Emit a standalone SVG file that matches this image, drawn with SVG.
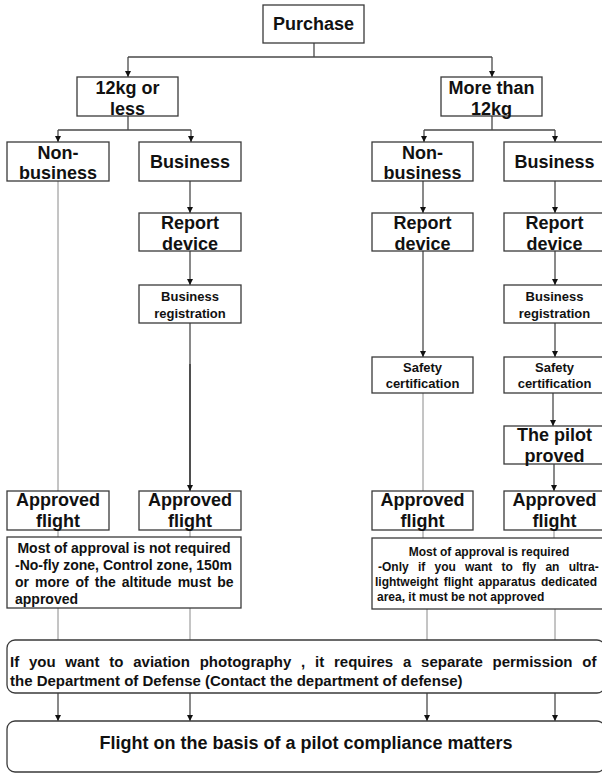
<svg xmlns="http://www.w3.org/2000/svg" width="602" height="773" viewBox="0 0 602 773">
<defs>
<style>
.box{fill:#fff;stroke:#3a3a3a;stroke-width:1.3}
.t{font-family:"Liberation Sans",Arial,sans-serif;font-weight:bold;fill:#111;text-anchor:middle}
.l{font-size:18px}
.s{font-size:13px}
.m{font-size:14px}
.p{font-size:15px}
.r{font-size:12px}
.st{text-anchor:start}
.c{fill:none;stroke:#4a4a4a;stroke-width:1.3}
.g{fill:none;stroke:#8a8a8a;stroke-width:1}
.a{marker-end:url(#arr)}
</style>
<marker id="arr" viewBox="0 0 10 10" refX="10" refY="5" markerWidth="6" markerHeight="6" markerUnits="userSpaceOnUse" orient="auto">
<path d="M0,0 L10,5 L0,10 z" fill="#111"/>
</marker>
</defs>
<rect width="602" height="773" fill="#fff"/>
<g id="connectors">
<path class="c" d="M314 43 V57 M128 57 H492"/>
<path class="c a" d="M128 57 V77"/>
<path class="c a" d="M492 57 V77"/>
<path class="c" d="M128 116 V130 M58 130 H191"/>
<path class="c a" d="M58 130 V142"/>
<path class="c a" d="M191 130 V142"/>
<path class="c" d="M492 116 V130 M424 130 H555"/>
<path class="c a" d="M424 130 V142"/>
<path class="c a" d="M555 130 V142"/>
<path class="g" d="M58 181 V491"/>
<path class="c a" d="M190 181 V213"/>
<path class="c a" d="M190 251 V285"/>
<path class="c" d="M190 323 V364"/>
<path class="c a" style="stroke:#222;stroke-width:1.6" d="M190 364 V491"/>
<path class="c a" d="M423 181 V213"/>
<path class="c a" d="M423 251 V357"/>
<path class="g" d="M423 393 V491"/>
<path class="c a" d="M555 181 V213"/>
<path class="c a" d="M555 251 V285"/>
<path class="c a" d="M555 323 V357"/>
<path class="c a" d="M553 393 V426"/>
<path class="c a" d="M554 464 V491"/>
<path class="g" d="M58 530 V537 M190 530 V537 M423 530 V538 M554 530 V538"/>
<path class="g" d="M58 608 V640 M190 608 V640 M427 609 V640 M555 609 V640"/>
<path class="c a" d="M58 693 V721"/>
<path class="c a" d="M190 693 V721"/>
<path class="c a" d="M427 693 V721"/>
<path class="c a" d="M555 693 V721"/>
</g>
<g id="purchase"><rect class="box" x="263" y="5" width="101" height="38"/><text class="t l" x="313.5" y="30">Purchase</text></g>
<g id="kg12"><rect class="box" x="77" y="77" width="101" height="39"/><text class="t l" x="127.5" y="94">12kg or</text><text class="t l" x="127.5" y="115">less</text></g>
<g id="more12"><rect class="box" x="441" y="77" width="101" height="39"/><text class="t l" x="491.5" y="94">More than</text><text class="t l" x="491.5" y="115">12kg</text></g>
<g id="nonbiz1"><rect class="box" x="7" y="142" width="102" height="39"/><text class="t l" x="58" y="159">Non-</text><text class="t l" x="58" y="179">business</text></g>
<g id="biz1"><rect class="box" x="139" y="142" width="102" height="39"/><text class="t l" x="190" y="168">Business</text></g>
<g id="nonbiz2"><rect class="box" x="372" y="142" width="101" height="39"/><text class="t l" x="422.5" y="159">Non-</text><text class="t l" x="422.5" y="179">business</text></g>
<g id="biz2"><rect class="box" x="504" y="142" width="101" height="39"/><text class="t l" x="554.5" y="168">Business</text></g>
<g id="report1"><rect class="box" x="139" y="213" width="102" height="38"/><text class="t l" x="190" y="229">Report</text><text class="t l" x="190" y="250">device</text></g>
<g id="bizreg1"><rect class="box" x="139" y="285" width="102" height="38"/><text class="t s" x="190" y="301">Business</text><text class="t s" x="190" y="318">registration</text></g>
<g id="report2"><rect class="box" x="372" y="213" width="101" height="38"/><text class="t l" x="422.5" y="229">Report</text><text class="t l" x="422.5" y="250">device</text></g>
<g id="report3"><rect class="box" x="504" y="213" width="101" height="38"/><text class="t l" x="554.5" y="229">Report</text><text class="t l" x="554.5" y="250">device</text></g>
<g id="bizreg2"><rect class="box" x="504" y="285" width="101" height="38"/><text class="t s" x="554.5" y="301">Business</text><text class="t s" x="554.5" y="318">registration</text></g>
<g id="safety1"><rect class="box" x="372" y="357" width="101" height="36"/><text class="t s" x="422.5" y="372">Safety</text><text class="t s" x="422.5" y="388">certification</text></g>
<g id="safety2"><rect class="box" x="504" y="357" width="101" height="36"/><text class="t s" x="554.5" y="372">Safety</text><text class="t s" x="554.5" y="388">certification</text></g>
<g id="pilot"><rect class="box" x="504" y="426" width="101" height="38"/><text class="t l" x="554.5" y="441">The pilot</text><text class="t l" x="554.5" y="462">proved</text></g>
<g id="approved1"><rect class="box" x="7" y="491" width="102" height="39"/><text class="t l" x="58" y="506">Approved</text><text class="t l" x="58" y="527">flight</text></g>
<g id="approved2"><rect class="box" x="139" y="491" width="102" height="39"/><text class="t l" x="190" y="506">Approved</text><text class="t l" x="190" y="527">flight</text></g>
<g id="approved3"><rect class="box" x="372" y="491" width="101" height="39"/><text class="t l" x="422.5" y="506">Approved</text><text class="t l" x="422.5" y="527">flight</text></g>
<g id="approved4"><rect class="box" x="504" y="491" width="101" height="39"/><text class="t l" x="554.5" y="506">Approved</text><text class="t l" x="554.5" y="527">flight</text></g>
<g id="info1"><rect class="box" x="7" y="537" width="234" height="71"/>
<text class="t m" x="124" y="553">Most of approval is not required</text>
<text class="t m st" x="15" y="570">-No-fly zone, Control zone, 150m</text>
<text class="t m st" x="15" y="587" word-spacing="2.2">or more of the altitude must be</text>
<text class="t m st" x="15" y="604">approved</text></g>
<g id="info2"><rect class="box" x="372" y="538" width="234" height="71"/>
<text class="t r" x="489" y="556">Most of approval is required</text>
<text class="t r st" x="378" y="571" word-spacing="5.9">-Only if you want to fly an ultra-</text>
<text class="t r st" x="375" y="586" word-spacing="2">lightweight flight apparatus dedicated</text>
<text class="t r st" x="377" y="601">area, it must be not approved</text></g>
<g id="photo"><rect class="box" x="7" y="640" width="598" height="53" rx="8"/>
<text class="t p st" x="10" y="667" word-spacing="5.6">If you want to aviation photography , it requires a separate permission of</text>
<text class="t p st" x="10" y="686">the Department of Defense (Contact the department of defense)</text></g>
<g id="final"><rect class="box" x="7" y="721" width="598" height="51" rx="8"/>
<text class="t l" x="306" y="749">Flight on the basis of a pilot compliance matters</text></g>
</svg>
